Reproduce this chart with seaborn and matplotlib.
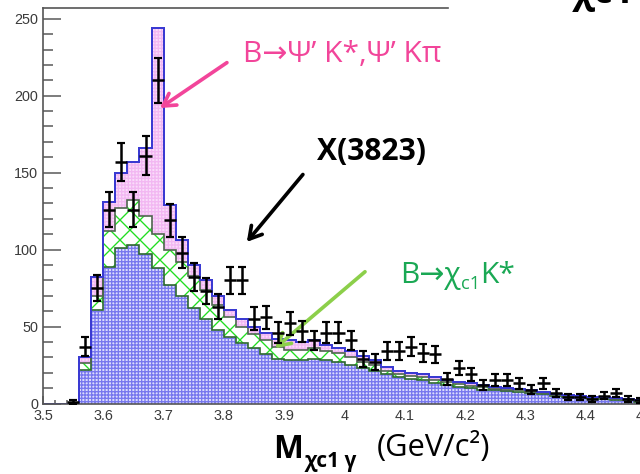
import numpy as np
import pandas as pd
import matplotlib
matplotlib.use("Agg")
import matplotlib.pyplot as plt
import seaborn as sns
from matplotlib.ticker import MultipleLocator, FuncFormatter

# ---- binning: 50 bins of 20 MeV between 3.5 and 4.5 GeV/c^2 ----
n_bins = 50
mass_range = (3.5, 4.5)
bin_edges = np.linspace(mass_range[0], mass_range[1], n_bins + 1)
bin_centers = 0.5 * (bin_edges[:-1] + bin_edges[1:])

# ---- observed events per bin ----
data_counts = [0, 0, 1, 37, 75, 126, 157, 126, 161, 210,
               119, 98, 82, 73, 63, 80, 80, 55, 56, 46,
               52, 47, 41, 46, 46, 41, 29, 27, 34, 34,
               37, 33, 32, 16, 23, 19, 12, 15, 15, 13,
               9, 13, 7, 4, 4, 3, 5, 7, 3, 2]

# ---- stacked MC expectations (cumulative tops) ----
# combinatorial / other background (bottom layer)
bkg_top = [0, 0, 0, 22, 61, 89, 101, 103, 97, 88,
           77, 70, 62, 55, 48, 43, 39, 36, 32, 29,
           28, 28, 29, 28, 27, 25, 23, 21, 19, 17,
           16, 15, 13, 12, 11, 10, 9, 8.5, 8, 7.5,
           7, 6, 5, 4.5, 4, 3.5, 3, 2.5, 2, 1]
# + B -> chi_c1 K* feed-down
chic1_top = [0, 0, 0, 26, 70, 112, 127, 132, 122, 110,
             100, 92, 83, 74, 64, 56, 50, 45, 41, 37,
             35, 35, 36, 34, 33, 30, 27, 25, 21, 19,
             18, 17, 15, 14, 12.5, 11.5, 10.5, 9.5, 9, 8.5,
             7.5, 6.5, 5.5, 5, 4.5, 4, 3.5, 3, 2.5, 1.5]
# + B -> psi' K*, psi' K pi (total)
total_top = [0, 0, 0, 30, 82, 131, 150, 157, 166, 244,
             129, 106, 90, 80, 70, 61, 55, 50, 46, 42,
             41, 40, 41, 38, 36, 34, 31, 28, 24, 21,
             20, 19, 17, 15.5, 14, 13, 12, 11, 10, 9.5,
             8.5, 7.5, 6, 5.5, 5, 4.5, 4, 3.5, 3, 2]

hist_df = pd.DataFrame({"mass": bin_centers, "bkg": bkg_top,
                        "chic1": chic1_top, "total": total_top})

# ---- style ----
sns.set_theme(style="white")
plt.rcParams["font.family"] = ["Liberation Sans", "DejaVu Sans"]
plt.rcParams["hatch.linewidth"] = 0.8

W, H, DPI = 640, 474, 120
fig = plt.figure(figsize=(W / DPI, H / DPI), dpi=DPI)
ax = fig.add_axes([43 / W, (H - 403.5) / H, 603 / W, (403.5 - 8) / H])
ax.set_facecolor("white")

def filled_layer(col, face, hatch_color, hatch):
    sns.histplot(data=hist_df, x="mass", weights=col, bins=n_bins,
                 binrange=mass_range, element="step", fill=True,
                 facecolor=face, edgecolor=hatch_color, hatch=hatch,
                 linewidth=0, ax=ax)

filled_layer("total", "#fadcfa", "#f2b8f2", "++++++")
filled_layer("chic1", "white", "#22dd22", "xx")
filled_layer("bkg", "#dcdcfc", "#7878ee", "++++++")

ax.stairs(bkg_top, bin_edges, color="#2f6a2f", linewidth=1.0)
ax.stairs(chic1_top, bin_edges, color="#4f664f", linewidth=1.0)
ax.stairs(total_top, bin_edges, color="#3a3ad2", linewidth=1.2)

# ---- data points ----
dc = np.asarray(data_counts, dtype=float)
sel = dc > 0
ax.errorbar(bin_centers[sel], dc[sel], yerr=np.sqrt(dc[sel]), fmt="none",
            ecolor="black", elinewidth=1.5, capsize=2.2, capthick=1.3, zorder=5)
ax.errorbar(bin_centers[sel], dc[sel], xerr=0.01, fmt="none",
            ecolor="black", elinewidth=1.5, capsize=0, zorder=5)

# ---- axes ----
ax.set_xlim(*mass_range)
ax.set_ylim(0, 257)
ax.set_xlabel("")
ax.set_ylabel("")
ax.xaxis.set_major_locator(MultipleLocator(0.1))
ax.xaxis.set_minor_locator(MultipleLocator(0.02))
ax.yaxis.set_major_locator(MultipleLocator(50))
ax.yaxis.set_minor_locator(MultipleLocator(10))
ax.xaxis.set_major_formatter(FuncFormatter(lambda v, p: f"{v:g}"))
tick_col = "#555555"
ax.tick_params(axis="y", which="major", direction="in", length=10.8, width=0.9,
               color=tick_col, labelsize=8.6, labelcolor="#3a3a3a", pad=3, left=True)
ax.tick_params(axis="y", which="minor", direction="in", length=6, width=0.9,
               color=tick_col, left=True)
ax.tick_params(axis="x", which="major", direction="in", length=4.8, width=0.9,
               color=tick_col, labelsize=8.6, labelcolor="#3a3a3a", pad=3.3, bottom=True)
ax.tick_params(axis="x", which="minor", direction="in", length=2.4, width=0.9,
               color=tick_col, bottom=True)
for side in ("left", "bottom", "top"):
    ax.spines[side].set_color("#555555")
    ax.spines[side].set_linewidth(1.0)
ax.spines["right"].set_visible(False)
ax.spines["top"].set_bounds(3.5, 4.172)

# ---- annotations ----
sans = ["Open Sans", "DejaVu Sans"]
renderer = fig.canvas.get_renderer()

def text_runs(x_px, base_px, runs):
    x = x_px
    for s, dy, kw in runs:
        t = fig.text(x / W, 1 - (base_px + dy) / H, s, va="baseline", ha="left",
                     family=sans, **kw)
        x += t.get_window_extent(renderer).width

pink = "#f2459a"
text_runs(243, 62, [("B\u2192\u03a8\u2019 K*,\u03a8\u2019 K\u03c0", 0,
                     dict(fontsize=18, color=pink))])
text_runs(317, 160, [("X(3823)", 0, dict(fontsize=18, color="black",
                                          fontweight="bold"))])
green = "#1aa854"
text_runs(400, 283, [("B\u2192\u03c7", 0, dict(fontsize=18, color=green)),
                     ("c1", 6, dict(fontsize=11, color=green)),
                     ("K*", 0, dict(fontsize=18, color=green))])

arrow_kw = dict(arrowstyle="->,head_length=0.6,head_width=0.35", linewidth=2.2,
                shrinkA=0, shrinkB=0)
ax.annotate("", xy=(3.694, 192), xytext=(3.805, 221.5),
            arrowprops=dict(color=pink, **arrow_kw))
ax.annotate("", xy=(3.838, 105), xytext=(3.931, 148.8),
            arrowprops=dict(color="black", **arrow_kw))
ax.annotate("", xy=(3.885, 36), xytext=(4.034, 85.6),
            arrowprops=dict(color="#8ccf4a", **arrow_kw))

# ---- axis title ----
text_runs(273, 458, [("M", 0, dict(fontsize=19, color="black", fontweight="bold"))])
text_runs(305, 467, [("\u03c7c1 \u03b3", 0, dict(fontsize=12.5, color="black",
                                               fontweight="bold"))])
text_runs(377, 456, [("(GeV/c\u00b2)", 0, dict(fontsize=18.5, color="black"))])

# heading fragment along the top edge
fig.text(573 / W, 1 - 3 / H, "\u03c7c1", va="baseline", ha="left",
         fontsize=22, fontweight="bold", color="black", family=sans)

fig.savefig("out.png", dpi=DPI)
